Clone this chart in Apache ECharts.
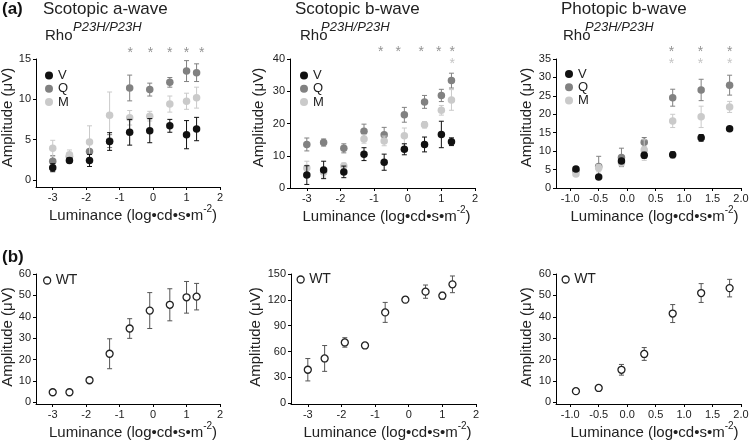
<!DOCTYPE html>
<html><head><meta charset="utf-8">
<script src="https://cdn.jsdelivr.net/npm/echarts@6/dist/echarts.min.js"></script>
<style>html,body{margin:0;padding:0;background:#fff}#c{width:750px;height:442px}</style>
</head><body><div id="c"></div>
<script>
// ---------- data ----------
const scotLum = [-3, -2.5, -1.9, -1.3, -0.7, -0.1, 0.5, 1.0, 1.3];
const photLum = [-0.9, -0.5, -0.1, 0.3, 0.8, 1.3, 1.8];

// (a) Rho P23H/P23H, scotopic a-wave
const aWaveV    = [1.5, 2.4, 2.4, 4.75, 5.9, 6.1, 6.7, 5.6, 6.3];
const aWaveVErr = [0.5, 0.3, 0.75, 1.1, 1.6, 1.5, 0.8, 1.75, 1.45];
const aWaveQ    = [2.3, 2.9, 3.5, 4.8, 11.4, 11.2, 12.1, 13.5, 13.3];
const aWaveQErr = [0.7, 0.3, 1.0, 0.8, 1.6, 0.8, 0.6, 1.3, 1.1];
const aWaveM    = [3.9, 3.1, 4.7, 8.0, 7.7, 7.9, 9.4, 9.75, 10.2];
const aWaveMErr = [1.0, 0.6, 2.0, 2.9, 0.9, 0.6, 1.0, 1.0, 1.3];
const aWaveStarX = [-0.68, -0.08, 0.5, 1.0, 1.45];
const aWaveStarY = [16.1, 16.1, 16.1, 16.1, 16.1];

// scotopic b-wave
const bWaveV    = [4.0, 5.6, 5.0, 10.5, 8.0, 12.0, 13.5, 16.6, 14.35];
const bWaveVErr = [2.9, 2.7, 1.8, 2.0, 2.5, 1.7, 2.3, 4.1, 1.2];
const bWaveQ    = [13.5, 14.1, 12.3, 17.6, 16.5, 22.7, 26.7, 28.7, 33.3];
const bWaveQErr = [2.0, 1.1, 1.4, 2.2, 2.3, 2.3, 2.0, 1.9, 2.3];
const bWaveM    = [6.2, 4.9, 6.8, 15.2, 14.6, 16.2, 19.6, 24.1, 27.3];
const bWaveMErr = [2.1, 1.5, 1.0, 1.3, 1.5, 2.4, 1.0, 1.5, 3.2];
const bWaveStarX = [-0.8, -0.28, 0.4, 0.92, 1.32];
const bWaveStarY = [43.1, 43.1, 43.1, 43.1, 43.1];
const bWaveStarMX = [1.32];
const bWaveStarMY = [39.4];

// photopic b-wave
const photV    = [5.15, 3.0, 7.3, 8.9, 9.0, 13.6, 16.1];
const photVErr = [0.3, 0.3, 0.5, 0.8, 0.8, 0.9, 0.5];
const photQ    = [4.7, 5.8, 8.3, 12.4, 24.5, 26.6, 27.9];
const photQErr = [0.4, 2.8, 2.5, 1.3, 2.3, 2.9, 2.7];
const photM    = [3.8, 5.4, 6.8, 10.3, 18.2, 19.3, 22.0];
const photMErr = [0.5, 1.0, 0.5, 2.8, 1.8, 2.9, 1.5];
const photStarX = [0.78, 1.29, 1.8];
const photStarY = [37.7, 37.7, 37.7];
const photStarMY = [34.5, 34.5, 34.5];

// (b) WT
const wtA    = [4.7, 4.7, 10.3, 22.7, 34.5, 42.9, 45.6, 49.1, 49.4];
const wtAErr = [0.5, 0.5, 1.0, 7.0, 4.6, 8.4, 7.5, 7.4, 6.2];
const wtB    = [38.8, 51.9, 70.5, 67.0, 105.4, 120.2, 129.5, 124.8, 138.0];
const wtBErr = [13, 15, 5.5, 1.5, 11.6, 3.5, 7.7, 4.0, 9.7];
const wtP    = [5.2, 6.7, 15.2, 22.6, 41.5, 51.1, 53.4];
const wtPErr = [0.5, 0.6, 2.5, 3.0, 4.2, 4.4, 4.1];

// tick labels
const scotTicks = [-3, -2, -1, 0, 1, 2];
const photTicks = [-1.0, -0.5, 0.0, 0.5, 1.0, 1.5, 2.0];
const aWaveYTicks = [0, 5, 10, 15];
const bWaveYTicks = [0, 10, 20, 30, 40];
const photYTicks = [0, 5, 10, 15, 20, 25, 30, 35];
const wtAYTicks = [0, 10, 20, 30, 40, 50, 60];
const wtBYTicks = [0, 30, 60, 90, 120, 150];
const wtPYTicks = [0, 10, 20, 30, 40, 50, 60];

const titles = ['Scotopic a-wave', 'Scotopic b-wave', 'Photopic b-wave'];

// ---------- styling ----------
const FONT = '"Liberation Sans", Arial, Helvetica, sans-serif';
const CV = '#111', CQ = '#818181', CM = '#cacaca';
const TXT = '#222';

const grids = [
  {left: 36, top: 59, width: 184, height: 128},
  {left: 290, top: 59, width: 185, height: 129},
  {left: 556, top: 59, width: 185, height: 129},
  {left: 36, top: 274, width: 184, height: 130},
  {left: 291, top: 274, width: 185, height: 130},
  {left: 556, top: 274, width: 185, height: 130}
].map(g => Object.assign({containLabel: false, outerBoundsMode: 'none'}, g));

function xAxisFor(g, min, max, ticks, dec, gap, padL) {
  return {
    type: 'value', gridIndex: g, min: min, max: max,
    axisLine: {show: true, onZero: false, lineStyle: {color: '#000', width: 1}},
    axisTick: {show: true, length: 3, customValues: ticks, lineStyle: {color: '#000'}},
    axisLabel: {customValues: ticks, fontSize: 11, color: TXT, margin: 5, fontFamily: FONT,
      showMinLabel: true, showMaxLabel: true,
      formatter: v => dec ? Number(v).toFixed(1) : String(Math.round(v))},
    splitLine: {show: false},
    name: '{t|Luminance (log•cd•s•m}{s|-2}{t|)}',
    nameLocation: 'middle', nameGap: gap,
    nameTextStyle: {padding: [0, 0, 0, padL],
      rich: {
        t: {fontSize: 15, fontFamily: FONT, color: TXT, lineHeight: 19, verticalAlign: 'bottom'},
        s: {fontSize: 10, fontFamily: FONT, color: TXT, lineHeight: 10, verticalAlign: 'top'}
      }}
  };
}
function yAxisFor(g, min, max, ticks, gap, padL) {
  return {
    type: 'value', gridIndex: g, min: min, max: max,
    axisLine: {show: true, onZero: false, lineStyle: {color: '#000', width: 1}},
    axisTick: {show: true, length: 3, customValues: ticks, lineStyle: {color: '#000'}},
    axisLabel: {customValues: ticks, fontSize: 11, color: TXT, margin: 5, fontFamily: FONT,
      showMinLabel: true, showMaxLabel: true},
    splitLine: {show: false},
    name: 'Amplitude (μV)', nameLocation: 'middle', nameRotate: 90, nameGap: gap,
    nameTextStyle: {fontSize: 15, fontFamily: FONT, color: TXT, padding: [0, 0, 0, padL]}
  };
}

function errSeries(g, xs, ys, es, color, z) {
  return {
    type: 'custom', xAxisIndex: g, yAxisIndex: g, silent: true, z: z,
    data: xs.map((x, i) => [x, ys[i] - es[i], ys[i] + es[i]]),
    encode: {x: 0, y: [1, 2]},
    renderItem: (params, api) => {
      const lo = api.coord([api.value(0), api.value(1)]);
      const hi = api.coord([api.value(0), api.value(2)]);
      const w = 2.5, st = {stroke: color, lineWidth: 1};
      return {type: 'group', children: [
        {type: 'line', shape: {x1: lo[0], y1: lo[1], x2: hi[0], y2: hi[1]}, style: st},
        {type: 'line', shape: {x1: lo[0] - w, y1: lo[1], x2: lo[0] + w, y2: lo[1]}, style: st},
        {type: 'line', shape: {x1: hi[0] - w, y1: hi[1], x2: hi[0] + w, y2: hi[1]}, style: st}
      ]};
    }
  };
}
function dotSeries(g, name, xs, ys, color, z) {
  return {
    type: 'scatter', name: name, xAxisIndex: g, yAxisIndex: g, z: z,
    data: xs.map((x, i) => [x, ys[i]]), symbol: 'circle', symbolSize: 7.5,
    itemStyle: {color: color, opacity: 1}, emphasis: {disabled: true}
  };
}
function wtSeries(g, xs, ys) {
  return {
    type: 'scatter', name: 'WT', xAxisIndex: g, yAxisIndex: g, z: 5,
    data: xs.map((x, i) => [x, ys[i]]), symbol: 'circle', symbolSize: 7,
    itemStyle: {color: '#fff', borderColor: '#222', borderWidth: 1.3, opacity: 1},
    emphasis: {disabled: true}
  };
}
function starSeries(g, xs, ys, color) {
  return {
    type: 'scatter', xAxisIndex: g, yAxisIndex: g, clip: false, silent: true, z: 6,
    data: xs.map((x, i) => [x, ys[i]]), symbol: 'circle', symbolSize: 1,
    itemStyle: {color: 'rgba(0,0,0,0)'},
    label: {show: true, position: 'inside', formatter: '*', fontSize: 14, color: color,
      fontFamily: FONT, offset: [0, 3]}
  };
}
function groupVQM(g, xs, V, Ve, Q, Qe, M, Me) {
  return [
    errSeries(g, xs, Q, Qe, CQ, 1), dotSeries(g, 'Q', xs, Q, CQ, 2),
    errSeries(g, xs, M, Me, CM, 3), dotSeries(g, 'M', xs, M, CM, 4),
    errSeries(g, xs, V, Ve, CV, 5), dotSeries(g, 'V', xs, V, CV, 6)
  ];
}

const series = [].concat(
  groupVQM(0, scotLum, aWaveV, aWaveVErr, aWaveQ, aWaveQErr, aWaveM, aWaveMErr),
  [starSeries(0, aWaveStarX, aWaveStarY, '#777')],
  groupVQM(1, scotLum, bWaveV, bWaveVErr, bWaveQ, bWaveQErr, bWaveM, bWaveMErr),
  [starSeries(1, bWaveStarX, bWaveStarY, '#777'), starSeries(1, bWaveStarMX, bWaveStarMY, '#b5b5b5')],
  groupVQM(2, photLum, photV, photVErr, photQ, photQErr, photM, photMErr),
  [starSeries(2, photStarX, photStarY, '#777'), starSeries(2, photStarX, photStarMY, '#b5b5b5')],
  [errSeries(3, scotLum, wtA, wtAErr, '#555', 4), wtSeries(3, scotLum, wtA)],
  [errSeries(4, scotLum, wtB, wtBErr, '#555', 4), wtSeries(4, scotLum, wtB)],
  [errSeries(5, photLum, wtP, wtPErr, '#555', 4), wtSeries(5, photLum, wtP)]
);

function vqmLegend(left, top) {
  return {data: ['V', 'Q', 'M'], left: left, top: top, orient: 'vertical', padding: 0,
    icon: 'circle', itemWidth: 8, itemHeight: 8, itemGap: 0.3, selectedMode: false,
    textStyle: {fontSize: 13, lineHeight: 13, color: TXT, fontFamily: FONT}};
}
function wtLegend(left, top) {
  return {data: ['WT'], left: left, top: top, padding: 0, icon: 'circle',
    itemWidth: 7, itemHeight: 7, selectedMode: false,
    itemStyle: {color: '#fff', borderColor: '#222', borderWidth: 1.3},
    textStyle: {fontSize: 14, lineHeight: 15, color: TXT, fontFamily: FONT}};
}

const graphic = [
  {type: 'text', x: 2, y: 1, style: {text: '(a)', font: 'bold 17px ' + FONT, fill: '#111'}},
  {type: 'text', x: 2, y: 249, style: {text: '(b)', font: 'bold 17px ' + FONT, fill: '#111'}}
];
[[43, 45, 73], [295, 300, 321], [561, 563, 585]].forEach((p, i) => {
  graphic.push({type: 'text', x: p[0], y: 1, style: {text: titles[i], font: '17px ' + FONT, fill: TXT}});
  graphic.push({type: 'text', x: p[1], y: 28, style: {text: 'Rho', font: '15px ' + FONT, fill: TXT}});
  graphic.push({type: 'text', x: p[2], y: 21, style: {text: 'P23H/P23H', font: 'italic 13px ' + FONT, fill: TXT}});
});

const option = {
  animation: false,
  backgroundColor: '#fff',
  textStyle: {fontFamily: FONT},
  grid: grids,
  xAxis: [
    xAxisFor(0, -3.5, 2, scotTicks, false, 12, 10),
    xAxisFor(1, -3.5, 2, scotTicks, false, 12, 8),
    xAxisFor(2, -1.25, 2, photTicks, true, 12, 12),
    xAxisFor(3, -3.5, 2, scotTicks, false, 14, 10),
    xAxisFor(4, -3.5, 2, scotTicks, false, 14, 8),
    xAxisFor(5, -1.25, 2, photTicks, true, 14, 12)
  ],
  yAxis: [
    yAxisFor(0, -0.9, 15, aWaveYTicks, 20, 11),
    yAxisFor(1, 0, 40, bWaveYTicks, 24, 12),
    yAxisFor(2, 0, 35, photYTicks, 22, 12),
    yAxisFor(3, -0.8, 60, wtAYTicks, 20, 4),
    yAxisFor(4, -1, 150, wtBYTicks, 25, 4),
    yAxisFor(5, -0.8, 60, wtPYTicks, 22, 4)
  ],
  legend: [
    vqmLegend(45, 69), vqmLegend(300, 69), vqmLegend(565, 67.5),
    wtLegend(43, 273), wtLegend(296.5, 272), wtLegend(561.5, 272)
  ],
  graphic: graphic,
  series: series
};

const chart = echarts.init(document.getElementById('c'), null, {renderer: 'canvas'});
chart.setOption(option);
</script></body></html>
